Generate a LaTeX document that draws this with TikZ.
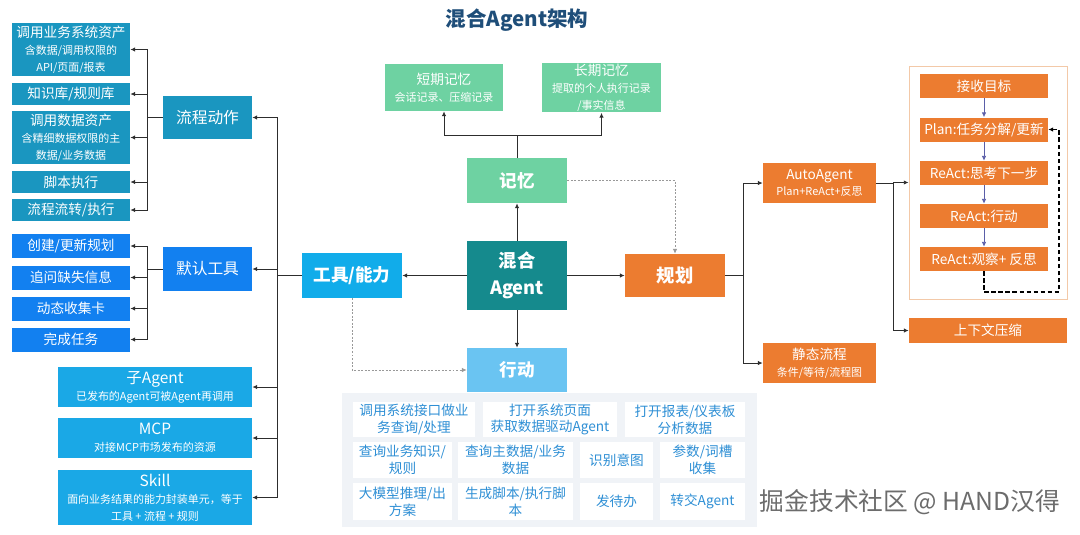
\documentclass[tikz,border=0pt]{standalone}
\usepackage{fontspec}
\setmainfont{Noto Sans CJK SC}
\usetikzlibrary{arrows.meta,positioning,calc}
\definecolor{titleblue}{RGB}{31,78,121}
\definecolor{flowteal}{RGB}{26,150,192}
\definecolor{toolblue}{RGB}{18,128,240}
\definecolor{skyblue}{RGB}{26,168,230}
\definecolor{capblue}{RGB}{17,172,234}
\definecolor{hybteal}{RGB}{21,138,141}
\definecolor{memgreen}{RGB}{110,210,162}
\definecolor{actblue}{RGB}{106,196,242}
\definecolor{planorange}{RGB}{236,124,48}
\definecolor{peach}{RGB}{243,201,168}
\definecolor{panelgray}{RGB}{240,243,247}
\definecolor{cellblue}{RGB}{46,143,213}
\definecolor{slate}{RGB}{90,94,168}
\definecolor{ink}{RGB}{45,45,45}
\newcommand\hdtx{\fontsize{9.7}{12}\selectfont}
\newcommand\subtx{\fontsize{7.8}{9.3}\selectfont}
\tikzset{
  >={Latex[length=1.2mm,width=1.1mm]},
  box/.style={fill=#1,text=white,inner sep=1pt,align=center,font=\hdtx},
  box/.default=flowteal,
  big/.style={box=#1,font=\fontsize{12.5}{15.5}\selectfont\bfseries},
  link/.style={->,draw=ink,line width=0.7pt},
  hint/.style={->,draw=gray!80,line width=0.6pt,dash pattern=on 1.4pt off 1.1pt},
  inlink/.style={->,draw=slate,line width=0.5pt},
  loopback/.style={->,draw=black,line width=0.8pt,dash pattern=on 3pt off 2pt},
  cell/.style={fill=white,text=cellblue,inner sep=1pt,align=center,font=\hdtx},
}
\begin{document}
\begin{tikzpicture}[x=0.25mm,y=-0.25mm]
  \useasboundingbox (0,0) rectangle (1080,534);
  \node[font=\fontsize{14.6}{17}\selectfont\bfseries,text=titleblue] (title) at (517,20) {混合Agent架构};
  % tools and capabilities
  \foreach \t/\y/\h [count=\i] in {{调用业务系统资产\\\subtx 含数据/调用权限的\\\subtx API/页面/报表}/49.5/13.25,
      {知识库/规则库}/94/5.5,
      {调用数据资产\\\subtx 含精细数据权限的主\\\subtx 数据/业务数据}/137.5/13.25,
      {脚本执行}/182/5.5,
      {流程流转/执行}/210/5.5}{
    \node[box=flowteal,minimum width=29.5mm,minimum height=\h mm] (a\i) at (71,\y) {\t};
  }
  \foreach \t/\y [count=\i] in {{创建/更新规划}/246,{追问缺失信息}/277.5,{动态收集卡}/308.5,{完成任务}/339.5}{
    \node[box=toolblue,minimum width=29.5mm,minimum height=6mm] (b\i) at (71,\y) {\t};
  }
  \node[box=flowteal,font=\fontsize{11.2}{13}\selectfont,minimum width=22.25mm,minimum height=10.75mm] (fl) at (207.5,117.5) {流程动作};
  \node[box=toolblue,font=\fontsize{11.2}{13}\selectfont,minimum width=22.25mm,minimum height=11mm] (df) at (207.5,269) {默认工具};
  \node[box=skyblue,minimum width=48.5mm,minimum height=10mm] (c1) at (155,387) {{\fontsize{11}{12}\selectfont 子Agent}\\\subtx 已发布的Agent可被Agent再调用};
  \node[box=skyblue,minimum width=48.5mm,minimum height=10mm] (c2) at (155,438) {{\fontsize{11}{12}\selectfont MCP}\\\subtx 对接MCP市场发布的资源};
  \node[box=skyblue,minimum width=48.5mm,minimum height=13.75mm] (c3) at (155,497.5) {{\fontsize{11}{12}\selectfont Skill}\\\subtx 面向业务结果的能力封装单元，等于\\\subtx 工具 + 流程 + 规则};
  \node[big=capblue,minimum width=25mm,minimum height=11.25mm] (tl) at (352,275.5) {工具/能力};
  \coordinate (fb) at (147,117.5);
  \coordinate (db) at (147,269);
  \coordinate (tb) at (277,275.5);
  \foreach \i in {1,...,5} \draw[link] (fl.west) -- (fb) |- (a\i.east);
  \foreach \i in {1,...,4} \draw[link] (df.west) -- (db) |- (b\i.east);
  \foreach \n in {fl,df,c1,c2,c3} \draw[link] (tl.west) -- (tb) |- (\n.east);
  % core, memory and action
  \node[big=hybteal,font=\fontsize{13}{19}\selectfont\bfseries,minimum width=25mm,minimum height=17.25mm] (hy) at (517,275.5) {混合\\Agent};
  \node[big=memgreen,minimum width=25mm,minimum height=11.25mm] (mem) at (517,180.5) {记忆};
  \node[big=actblue,minimum width=25mm,minimum height=11mm] (act) at (517,370) {行动};
  \node[box=memgreen,minimum width=29.5mm,minimum height=11.75mm] (sm) at (444,87.5) {短期记忆\\\subtx 会话记录、压缩记录};
  \node[box=memgreen,minimum width=29.75mm,minimum height=11.75mm] (lm) at (601.5,87.5) {长期记忆\\\subtx 提取的个人执行记录\\\subtx /事实信息};
  \coordinate (mt) at (517,135);
  \draw[link] (hy.west) -- (tl.east);
  \draw[link] (hy.north) -- (mem.south);
  \draw[link] (hy.south) -- (act.north);
  \draw[link] (mem.north) -- (mt) -| (sm.south);
  \draw[link] (mem.north) -- (mt) -| (lm.south);
  \draw[hint] (tl.south) |- (act.west);
  \node[fill=panelgray,minimum width=103.75mm,minimum height=33.5mm] (pn) at (549.5,460) {};
  \foreach \t/\x/\y/\w/\h [count=\i] in {{调用系统接口做业\\务查询/处理}/414/419.5/30.5/8.75,
      {打开系统页面\\获取数据驱动Agent}/550/419.5/33.5/8.75,
      {打开报表/仪表板\\分析数据}/685/419.5/30/8.75,
      {查询业务知识/\\规则}/402.5/460/24.75/9,
      {查询主数据/业务\\数据}/515.5/460/28.75/9,
      {识别意图}/616.5/460/18.25/9,
      {参数/词槽\\收集}/702.5/460/21.25/9,
      {大模型推理/出\\方案}/402.5/501.5/24.75/9.25,
      {生成脚本/执行脚\\本}/515.5/501.5/28.75/9.25,
      {发待办}/616.5/501.5/18.25/9.25,
      {转交Agent}/702.5/501.5/21.25/9.25}{
    \node[cell,minimum width=\w mm,minimum height=\h mm] (g\i) at (\x,\y) {\t};
  }
  % planning
  \node[big=planorange,font=\fontsize{13}{15}\selectfont\bfseries,minimum width=25mm,minimum height=10.75mm] (pl) at (675,275.5) {规划};
  \draw[link] (hy.east) -- (pl.west);
  \draw[hint] (mem.east) -| (pl.north);
  \node[box=planorange,minimum width=28.25mm,minimum height=10mm] (au) at (819.5,183) {AutoAgent\\\subtx Plan+ReAct+反思};
  \node[box=planorange,minimum width=28.25mm,minimum height=10mm] (st) at (819.5,363) {静态流程\\\subtx 条件/等待/流程图};
  \node[draw=peach,line width=0.6pt,minimum width=39.5mm,minimum height=58.25mm] (ct) at (988,182.5) {};
  \node[box=planorange,minimum width=39.5mm,minimum height=6.25mm] (cx) at (988,330.5) {上下文压缩};
  \foreach \t/\y [count=\i] in {{接收目标}/86,{Plan:任务分解/更新}/129.5,{ReAct:思考下一步}/173,{ReAct:行动}/216,{ReAct:观察+ 反思}/259}{
    \node[box=planorange,minimum width=32mm,minimum height=6mm] (r\i) at (984,\y) {\t};
  }
  \foreach \i [evaluate=\i as \j using int(\i+1)] in {1,...,4} \draw[inlink] (r\i) -- (r\j);
  \coordinate (pb) at (743,275.5);
  \coordinate (ab) at (893,183);
  \coordinate (lp) at (1059,292);
  \draw[link] (pl.east) -- (pb) |- (au.west);
  \draw[link] (pl.east) -- (pb) |- (st.west);
  \draw[link] (au.east) -- (ab) |- (ct.west);
  \draw[link] (au.east) -- (ab) |- (cx.west);
  \draw[loopback] (r5.south) |- (lp) |- (r2.east);
  \node[text=gray!85!black,font=\fontsize{17.6}{20}\selectfont] (wm) at (910,502) {掘金技术社区 @ HAND汉得};
\end{tikzpicture}
\end{document}
